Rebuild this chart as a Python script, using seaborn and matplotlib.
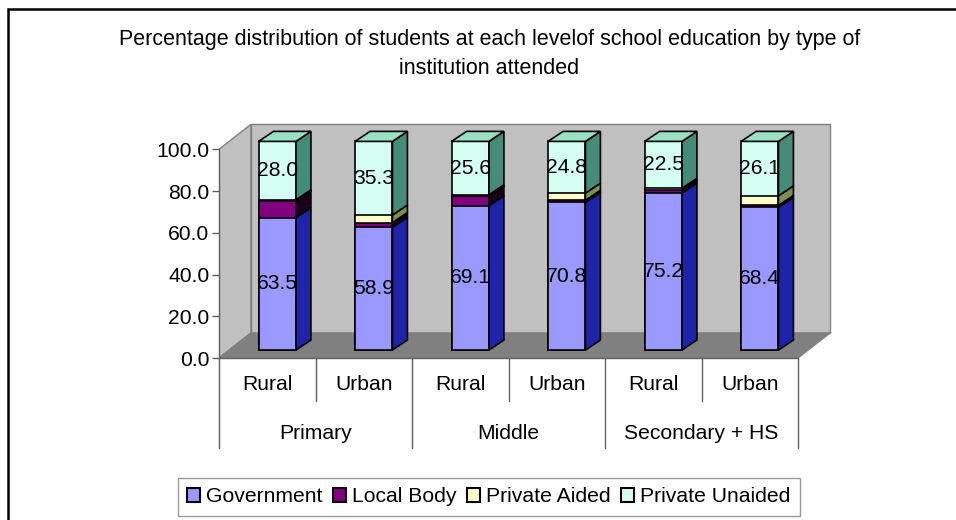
import numpy as np
import pandas as pd
import matplotlib
matplotlib.use('Agg')
import matplotlib.pyplot as plt
from matplotlib.patches import Polygon, Patch, Rectangle
import seaborn as sns

# Data (percent of students)
levels = ['Primary', 'Middle', 'Secondary + HS']
areas = ['Rural', 'Urban', 'Rural', 'Urban', 'Rural', 'Urban']
government = [63.5, 58.9, 69.1, 70.8, 75.2, 68.4]
local_body = [8.0, 2.2, 4.6, 1.0, 1.6, 0.9]
private_aided = [0.5, 3.6, 0.7, 3.4, 0.7, 4.6]
private_unaided = [28.0, 35.3, 25.6, 24.8, 22.5, 26.1]
series_names = ['Government', 'Local Body', 'Private Aided', 'Private Unaided']
yticks = [0, 20, 40, 60, 80, 100]
title_lines = ['Percentage distribution of students at each levelof school education by type of',
               'institution attended']

# colours: front face, side face, top face
front_colors = ['#9999FF', '#800080', '#FFFFCC', '#D6FFF4']
side_colors = ['#1F23A8', '#1A001A', '#7F8F50', '#468A78']
top_colors = ['#7F7FE0', '#600060', '#E0E0A0', '#99E0C4']

sns.set_style('white')
plt.rcParams['font.family'] = ['Liberation Sans', 'DejaVu Sans']
plt.rcParams['text.color'] = 'black'
plt.rcParams['ytick.color'] = 'black'
plt.rcParams['xtick.color'] = 'black'
fs = 15.2

fig = plt.figure(figsize=(9.56, 5.2), dpi=100)
ax = fig.add_axes([219 / 956, 1 - 358 / 520, (836.6 - 219) / 956, (358 - 122.2) / 520])

# 3D frame offsets (in data units)
wdx, wdy = 0.332, 12.0   # wall depth
bdx, bdy = 0.104, 3.8    # bar position inside depth
ddx, ddy = 0.155, 4.8    # bar depth
bar_w = 0.387
n = len(areas)

# walls and floor
ax.add_patch(Polygon([(-0.5, 0), (-0.5 + wdx, wdy), (-0.5 + wdx, 100 + wdy), (-0.5, 100)],
                     closed=True, fc='#C0C0C0', ec='#808080', lw=1, zorder=1))
ax.add_patch(Polygon([(-0.5 + wdx, wdy), (n - 0.5 + wdx, wdy), (n - 0.5 + wdx, 100 + wdy), (-0.5 + wdx, 100 + wdy)],
                     closed=True, fc='#C0C0C0', ec='#808080', lw=1, zorder=1))
ax.add_patch(Polygon([(-0.5, 0), (n - 0.5, 0), (n - 0.5 + wdx, wdy), (-0.5 + wdx, wdy)],
                     closed=True, fc='#808080', ec='#808080', lw=1, zorder=1))

# stacked bars: cumulative totals drawn from the top down
df = pd.DataFrame({
    'bar': [f'{levels[i // 2]}|{areas[i]}' for i in range(n)],
    'Government': government,
    'Local Body': local_body,
    'Private Aided': private_aided,
    'Private Unaided': private_unaided,
})
cum = df[series_names].cumsum(axis=1)
order = df['bar'].tolist()

seg_patches = {}
for k in reversed(range(4)):
    start = len(ax.patches)
    sns.barplot(data=df.assign(total=cum[series_names[k]]), x='bar', y='total', order=order,
                color=front_colors[k], saturation=1, width=bar_w, errorbar=None,
                edgecolor='black', linewidth=1.2, ax=ax, zorder=3)
    seg_patches[k] = ax.patches[start:start + n]

for k in range(4):
    for i, p in enumerate(seg_patches[k]):
        p.set_x(p.get_x() + bdx)
        p.set_y(bdy)
        x1 = p.get_x() + p.get_width()
        y0 = bdy + (cum[series_names[k - 1]].iloc[i] if k > 0 else 0)
        y1 = bdy + cum[series_names[k]].iloc[i]
        ax.add_patch(Polygon([(x1, y0), (x1 + ddx, y0 + ddy), (x1 + ddx, y1 + ddy), (x1, y1)],
                             closed=True, fc=side_colors[k], ec='black', lw=1.2, zorder=3))
        if k == 3:
            x0 = p.get_x()
            ax.add_patch(Polygon([(x0, y1), (x0 + ddx, y1 + ddy), (x1 + ddx, y1 + ddy), (x1, y1)],
                                 closed=True, fc=top_colors[k], ec='black', lw=1.2, zorder=3))

# value labels for Government and Private Unaided
for i in range(n):
    xc = i + bdx
    ax.text(xc, bdy + government[i] / 2, f'{government[i]:.1f}', ha='center', va='center',
            fontsize=fs, zorder=5)
    top = cum['Private Unaided'].iloc[i]
    ax.text(xc, bdy + top - private_unaided[i] / 2, f'{private_unaided[i]:.1f}', ha='center',
            va='center', fontsize=fs, zorder=5)

# axes
ax.set_xlim(-0.5, n - 0.5 + 0.4)
ax.set_ylim(0, 113)
for s in ['top', 'right']:
    ax.spines[s].set_visible(False)
ax.spines['left'].set_bounds(0, 100)
ax.spines['bottom'].set_bounds(-0.5, n - 0.5)
for s in ['left', 'bottom']:
    ax.spines[s].set_color('#606060')
    ax.spines[s].set_linewidth(1)
ax.set_yticks(yticks)
ax.set_yticklabels([f'{v:.1f}' for v in yticks], fontsize=fs)
ax.tick_params(axis='y', length=5, width=1, color='#606060', labelcolor='black', pad=2, left=True)
ax.set_xticks([])
ax.set_xlabel('')
ax.set_ylabel('')
ax.patch.set_visible(False)

# two-level category axis
for i in range(n + 1):
    depth = -43 if i % 2 == 0 else -20.5
    ax.plot([i - 0.5, i - 0.5], [0, depth], color='#606060', lw=1, clip_on=False)
for i in range(n):
    ax.text(i, -12.5, areas[i], ha='center', va='center', fontsize=fs, clip_on=False)
for j, lev in enumerate(levels):
    ax.text(2 * j + 0.5, -36, lev, ha='center', va='center', fontsize=fs, clip_on=False)

fig.text(489.5 / 956, 1 - 40 / 520, title_lines[0], ha='center', va='center', fontsize=15.5)
fig.text(489.5 / 956, 1 - 68 / 520, title_lines[1], ha='center', va='center', fontsize=15.5)

handles = [Patch(fc=front_colors[k], ec='black', lw=1.5) for k in range(4)]
leg = fig.legend(handles, series_names, loc='center', bbox_to_anchor=(489 / 956, 1 - 497 / 520),
                 ncol=4, fontsize=fs, frameon=True, fancybox=False, edgecolor='#808080',
                 handlelength=0.6, handleheight=0.6, handletextpad=0.3, columnspacing=0.5,
                 borderpad=0.45, borderaxespad=0)
leg.get_frame().set_linewidth(1)

# chart-area border (runs off the right and bottom edges)
fig.patches.append(Rectangle((8 / 956, -10 / 520), 960 / 956, 521 / 520, transform=fig.transFigure,
                             fill=False, ec='black', lw=1.8))

fig.savefig('out.png', dpi=100)
